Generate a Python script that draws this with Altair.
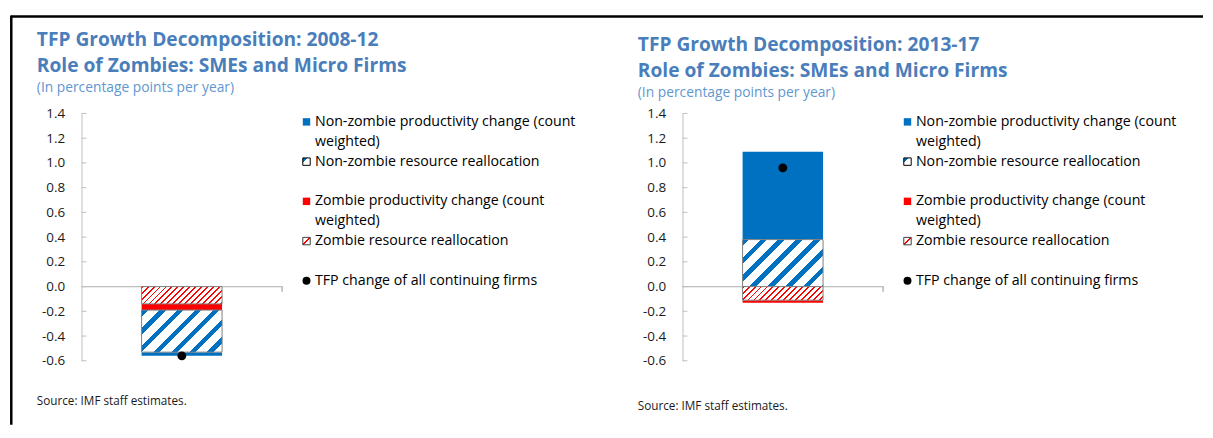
import altair as alt
import pandas as pd

# ---------------- data ----------------
panels = ["2008-12", "2013-17"]
components = [
    "Zombie resource reallocation",
    "Zombie productivity change (count weighted)",
    "Non-zombie resource reallocation",
    "Non-zombie productivity change (count weighted)",
]
component_keys = ["zr", "zp", "nzr", "nzp"]
values_2008_12 = [-0.14, -0.05, -0.34, -0.03]
values_2013_17 = [-0.11, -0.02, 0.38, 0.71]
tfp_change = [-0.56, 0.96]
y_ticks = [-0.6, -0.4, -0.2, 0.0, 0.2, 0.4, 0.6, 0.8, 1.0, 1.2, 1.4]

title_line1 = ["TFP Growth Decomposition: 2008-12", "TFP Growth Decomposition: 2013-17"]
title_line2 = "Role of Zombies: SMEs and Micro Firms"
subtitle_text = "(In percentage points per year)"
source_text = "Source: IMF staff estimates."

legend_text = {
    "nzp": ["Non-zombie productivity change (count", "weighted)"],
    "nzr": ["Non-zombie resource reallocation"],
    "zp": ["Zombie productivity change (count", "weighted)"],
    "zr": ["Zombie resource reallocation"],
    "tfp": ["TFP change of all continuing firms"],
}
legend_groups = [["nzp", "nzr"], ["zp", "zr"], ["tfp"]]

# ---------------- style ----------------
FONT = "Open Sans"
BLUE = "#0070C0"
RED = "#FF0000"
AXIS_GRAY = "#BFBFBF"
OUTLINE = "#7F7F7F"
TITLE_BLUE = "#4A7EBB"
SUB_BLUE = "#5F97CF"
TEXT = "#1A1A1A"

PLOT_W, PLOT_H = 202, 249
BAR_W = 81
SPACING = 21
LEG_W_LEFT = 361     # sets the gap to the second panel
LEG_W_RIGHT = 260    # keeps the exhibit inside the page
Y_DOMAIN = [-0.6, 1.4]
PPU = PLOT_H / (Y_DOMAIN[1] - Y_DOMAIN[0])


def stripes(w, h, period, frac, color, bg="white", phase=0.0):
    """Diagonal '/' stripes as a hard-stop linear gradient on a w x h box."""
    total = w + h
    k = (w + h) / (w * w + h * h)
    stops = []
    pos = -period + phase
    while pos < total:
        segs = [(pos, pos + frac * period, color), (pos + frac * period, pos + period, bg)]
        for s, e, c in segs:
            s2, e2 = max(s, 0.0), min(e, total)
            if e2 > s2:
                stops.append({"offset": s2 / total, "color": c})
                stops.append({"offset": e2 / total, "color": c})
        pos += period
    return {"gradient": "linear", "x1": 0, "y1": 0, "x2": w * k, "y2": h * k, "stops": stops}


def corner_grad(stops):
    return {"gradient": "linear", "x1": 0, "y1": 0, "x2": 1, "y2": 1,
            "stops": [{"offset": o, "color": c} for o, c in stops]}


yscale = alt.Scale(domain=Y_DOMAIN, nice=False, zero=False)
yaxis = alt.Axis(
    values=y_ticks, title=None, grid=False, ticks=False, tickSize=0,
    domainColor=AXIS_GRAY, domainWidth=1, labelPadding=17,
    labelFont=FONT, labelFontSize=13.5, labelColor=TEXT,
    labelExpr="(datum.value < -0.001 ? '-' : '') + format(abs(datum.value), '.1f')",
)


def Yq(field):
    return alt.Y(field, type="quantitative", scale=yscale, axis=yaxis)


def Y0():
    return alt.YDatum(0, type="quantitative", scale=yscale, axis=yaxis)


def panel_chart(i, values, title_offset):
    df = pd.DataFrame({
        "panel": panels[i],
        "component": components,
        "key": component_keys,
        "order": list(range(len(components))),
        "value": values,
    })
    X = alt.X("panel:N", axis=None, title=None)
    base = alt.Chart(df).transform_stack(
        stack="value", groupby=["panel"], as_=["y0", "y1"],
        sort=[alt.SortField("order", order="ascending")],
    )
    vals = dict(zip(component_keys, values))

    zero_line = alt.Chart(df).mark_rule(color=AXIS_GRAY, strokeWidth=1).encode(
        y=Y0(), x=alt.value(0), x2=alt.value(PLOT_W))
    end_tick = alt.Chart(df).mark_rule(color=AXIS_GRAY, strokeWidth=1, y2Offset=5).encode(
        x=alt.value(PLOT_W), y=Y0(), y2=alt.Y2Datum(0))
    ticks = alt.Chart(pd.DataFrame({"tick": y_ticks})).mark_rule(
        color=AXIS_GRAY, strokeWidth=1).encode(
        y=Yq("tick"), x=alt.value(0), x2=alt.value(5))

    layers = [zero_line, end_tick, ticks]
    fills = {
        "nzp": dict(fill=BLUE),
        "zp": dict(fill=RED),
        "nzr": dict(fill=stripes(BAR_W, abs(vals["nzr"]) * PPU, 18.0, 0.36, BLUE),
                    stroke=OUTLINE, strokeWidth=1),
        "zr": dict(fill=stripes(BAR_W, abs(vals["zr"]) * PPU, 6.0, 0.32, RED),
                   stroke=OUTLINE, strokeWidth=1),
    }
    for key in ["nzp", "zp", "nzr", "zr"]:
        layers.append(
            base.transform_filter(alt.datum.key == key)
            .mark_bar(width=BAR_W, **fills[key])
            .encode(x=X, y=Yq("y0"), y2=alt.Y2("y1"))
        )
    dot_df = pd.DataFrame({"panel": [panels[i]], "tfp": [tfp_change[i]]})
    layers.append(alt.Chart(dot_df).mark_circle(size=80, color="black", opacity=1).encode(
        x=X, y=Yq("tfp")))

    return alt.layer(*layers).properties(
        width=PLOT_W, height=PLOT_H,
        title=alt.TitleParams(
            text=[title_line1[i], title_line2], subtitle=subtitle_text,
            anchor="start", frame="group", dx=-45, offset=title_offset,
            font=FONT, fontSize=19.3, fontWeight="bold", color=TITLE_BLUE, lineHeight=26.5,
            subtitleFont=FONT, subtitleFontSize=13.9, subtitleColor=SUB_BLUE,
            subtitlePadding=4.5,
        ),
    )


def legend_chart(width, source_offset):
    rows = []
    slot = 0
    for group in legend_groups:
        for key in group:
            for j, line in enumerate(legend_text[key]):
                rows.append({"key": key, "line": slot, "text": line, "first": j == 0})
                slot += 1
        slot += 1
    df = pd.DataFrame(rows)
    LY = alt.Y("line:Q", scale=alt.Scale(domain=[0, 12], range=[8.5, 248.5]), axis=None)
    text = alt.Chart(df).mark_text(
        align="left", baseline="middle", font=FONT, fontSize=14.3, color="black"
    ).encode(x=alt.value(12), y=LY, text="text:N")
    first = alt.Chart(df).transform_filter("datum.first")
    sym = {
        "nzp": dict(shape="square", size=56, fill=BLUE, filled=True),
        "nzr": dict(shape="square", size=56, filled=True, stroke="black", strokeWidth=1,
                    fill=corner_grad([(0, BLUE), (0.32, BLUE), (0.32, "white"), (1, "white")])),
        "zp": dict(shape="square", size=56, fill=RED, filled=True),
        "zr": dict(shape="square", size=56, filled=True, stroke="#404040", strokeWidth=1,
                   fill=corner_grad([(0, "white"), (0.42, "white"), (0.42, RED), (0.58, RED),
                                     (0.58, "white"), (1, "white")])),
        "tfp": dict(shape="circle", size=64, fill="black", filled=True),
    }
    layers = [text]
    for key, props in sym.items():
        layers.append(first.transform_filter(alt.datum.key == key)
                      .mark_point(opacity=1, **props)
                      .encode(x=alt.value(3.5), y=LY))
    return alt.layer(*layers).properties(
        width=width, height=PLOT_H,
        title=alt.TitleParams(
            text=source_text, orient="bottom", anchor="start", frame="group",
            dx=-268, offset=source_offset, font=FONT, fontSize=11.8,
            fontWeight="normal", color=TEXT,
        ),
    )


# frame (top and left border of the exhibit); the frame cell origin sits at the
# right end of the exhibit, level with the top of the plots
FRAME_X = 82 + (PLOT_W + SPACING + LEG_W_LEFT + SPACING) + (PLOT_W + SPACING + LEG_W_RIGHT + SPACING)
PLOT_TOP = 111.5
frame_df = pd.DataFrame({"edge": ["frame"]})
frame_top = alt.Chart(frame_df).mark_rule(color="black", strokeWidth=2.5).encode(
    x=alt.value(11.3 - FRAME_X), x2=alt.value(1211 - FRAME_X), y=alt.value(14 - PLOT_TOP))
frame_left = alt.Chart(frame_df).mark_rule(color="black", strokeWidth=2.5).encode(
    x=alt.value(11.3 - FRAME_X), y=alt.value(12.8 - PLOT_TOP), y2=alt.value(425 - PLOT_TOP))
frame_cell = alt.layer(frame_top, frame_left).properties(width=1, height=PLOT_H)

chart = alt.hconcat(
    panel_chart(0, values_2008_12, 12),
    legend_chart(LEG_W_LEFT, 36),
    panel_chart(1, values_2013_17, 7),
    legend_chart(LEG_W_RIGHT, 41),
    frame_cell,
    spacing=SPACING, bounds="flush",
).properties(
    padding={"left": 2, "top": 4.75, "right": 0, "bottom": 0}
).configure_view(strokeWidth=0)

chart.save("out.html", embed_options={"renderer": "svg", "actions": False})
